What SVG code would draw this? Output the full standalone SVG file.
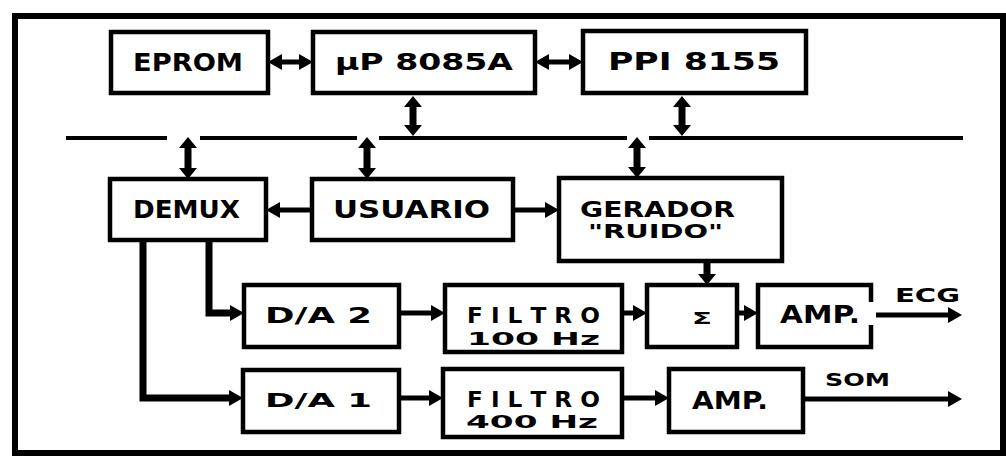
<svg xmlns="http://www.w3.org/2000/svg" width="1006" height="466" viewBox="0 0 1006 466">
<style>
.box{fill:#fff;stroke:#000;stroke-width:4.5}
.t{font-family:"DejaVu Sans","Liberation Sans",sans-serif;font-weight:bold;fill:#000}
.c{fill:none;stroke:#000;stroke-width:5}
.cv{fill:none;stroke:#000;stroke-width:7}
.bus{fill:none;stroke:#000;stroke-width:4}
</style>
<defs>
<marker id="ah" markerUnits="userSpaceOnUse" markerWidth="14" markerHeight="16" viewBox="0 0 14 16" refX="2" refY="8" orient="auto-start-reverse">
<path d="M0,0 L14,8 L0,16 z" fill="#000"/>
</marker>
<marker id="av" markerUnits="userSpaceOnUse" markerWidth="11" markerHeight="18" viewBox="0 0 11 18" refX="2" refY="9" orient="auto-start-reverse">
<path d="M0,0 L11,9 L0,18 z" fill="#000"/>
</marker>
</defs>
<rect x="0" y="0" width="1006" height="466" fill="#fff"/>
<rect x="15" y="16" width="988" height="437" fill="none" stroke="#000" stroke-width="6"/>

<g id="connectors">
<path class="bus" d="M66,138 H167 M200,138 H357 M379,138 H627 M649,138 H963"/>
<path class="c" d="M280,62 H301" marker-start="url(#ah)" marker-end="url(#ah)"/>
<path class="c" d="M547,62 H571" marker-start="url(#ah)" marker-end="url(#ah)"/>
<path class="cv" d="M413,105 V127" marker-start="url(#av)" marker-end="url(#av)"/>
<path class="cv" d="M682,105 V127" marker-start="url(#av)" marker-end="url(#av)"/>
<path class="cv" d="M188,146 V170" marker-start="url(#av)" marker-end="url(#av)"/>
<path class="cv" d="M367,146 V170" marker-start="url(#av)" marker-end="url(#av)"/>
<path class="cv" d="M637,146 V169" marker-start="url(#av)" marker-end="url(#av)"/>
<path class="c" d="M312,210 H278" marker-end="url(#ah)"/>
<path class="c" d="M513,210 H547" marker-end="url(#ah)"/>
<path class="cv" d="M707,261 V276" marker-end="url(#av)"/>
<path class="cv" d="M209,240 V313 H232" marker-end="url(#ah)"/>
<path class="cv" d="M143,240 V398 H231" marker-end="url(#ah)"/>
<path class="c" d="M399,313 H433" marker-end="url(#ah)"/>
<path class="c" d="M622,313 H635" marker-end="url(#ah)"/>
<path class="c" d="M737,313 H746" marker-end="url(#ah)"/>
<path class="c" d="M871,315 H950" marker-end="url(#ah)"/>
<path class="c" d="M399,398 H431" marker-end="url(#ah)"/>
<path class="c" d="M622,398 H657" marker-end="url(#ah)"/>
<path class="c" d="M803,399 H950" marker-end="url(#ah)"/>
</g>

<g id="eprom"><rect class="box" x="111" y="32" width="157" height="61"/>
<text class="t" x="133" y="71" font-size="24" textLength="110" lengthAdjust="spacingAndGlyphs">EPROM</text></g>
<g id="up8085"><rect class="box" x="313" y="32" width="222" height="61"/>
<text class="t" x="335" y="70" font-size="23" textLength="178" lengthAdjust="spacingAndGlyphs">µP  8085A</text></g>
<g id="ppi8155"><rect class="box" x="583" y="31" width="223" height="62"/>
<text class="t" x="608" y="70" font-size="24" textLength="172" lengthAdjust="spacingAndGlyphs">PPI 8155</text></g>

<g id="demux"><rect class="box" x="110" y="179" width="156" height="61"/>
<text class="t" x="133" y="218" font-size="24" textLength="107" lengthAdjust="spacingAndGlyphs">DEMUX</text></g>
<g id="usuario"><rect class="box" x="312" y="179" width="201" height="61"/>
<text class="t" x="333" y="218" font-size="24" textLength="157" lengthAdjust="spacingAndGlyphs">USUARIO</text></g>
<g id="gerador"><rect class="box" x="559" y="178" width="223" height="83"/>
<text class="t" x="580" y="217" font-size="22" textLength="155" lengthAdjust="spacingAndGlyphs">GERADOR</text>
<text class="t" x="588" y="238" font-size="19" textLength="135" lengthAdjust="spacingAndGlyphs">"RUIDO"</text></g>

<g id="da2"><rect class="box" x="244" y="285" width="155" height="62"/>
<text class="t" x="265" y="323" font-size="21" textLength="107" lengthAdjust="spacingAndGlyphs">D/A  2</text></g>
<g id="filtro100"><rect class="box" x="445" y="285" width="177" height="67"/>
<text class="t" x="467" y="323" font-size="21" textLength="133" lengthAdjust="spacingAndGlyphs">F I L T R O</text>
<text class="t" x="467" y="345" font-size="18" textLength="133" lengthAdjust="spacingAndGlyphs">100  Hz</text></g>
<g id="sum"><rect class="box" x="647" y="285" width="90" height="62"/>
<text class="t" x="692" y="324" font-size="16" textLength="20" lengthAdjust="spacingAndGlyphs">Σ</text></g>
<g id="amp1"><rect class="box" x="758" y="285" width="113" height="62"/>
<rect x="866" y="302" width="10" height="23" fill="#fff"/>
<text class="t" x="780" y="323" font-size="24" textLength="80" lengthAdjust="spacingAndGlyphs">AMP.</text></g>
<text class="t" x="895" y="302" font-size="20" textLength="65" lengthAdjust="spacingAndGlyphs">ECG</text>

<g id="da1"><rect class="box" x="243" y="370" width="156" height="62"/>
<text class="t" x="265" y="407" font-size="20" textLength="107" lengthAdjust="spacingAndGlyphs">D/A  1</text></g>
<g id="filtro400"><rect class="box" x="443" y="369" width="179" height="68"/>
<text class="t" x="467" y="407" font-size="21" textLength="133" lengthAdjust="spacingAndGlyphs">F I L T R O</text>
<text class="t" x="466" y="428" font-size="18" textLength="132" lengthAdjust="spacingAndGlyphs">400  Hz</text></g>
<g id="amp2"><rect class="box" x="669" y="369" width="134" height="63"/>
<text class="t" x="692" y="409" font-size="25" textLength="76" lengthAdjust="spacingAndGlyphs">AMP.</text></g>
<text class="t" x="825" y="386" font-size="18" textLength="65" lengthAdjust="spacingAndGlyphs">SOM</text>
</svg>
